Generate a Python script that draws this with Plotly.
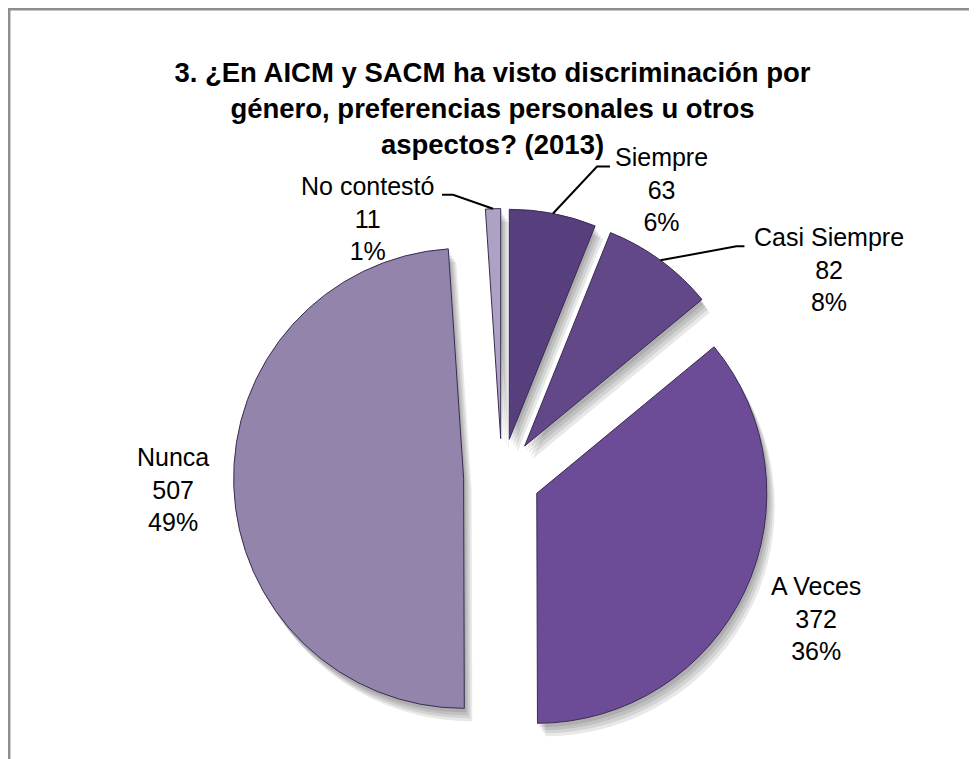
import math
import plotly.graph_objects as go

# ---- data ----
categories = ["Siempre", "Casi Siempre", "A Veces", "Nunca", "No contestó"]
counts = [63, 82, 372, 507, 11]
slice_colors = ["#573e7d", "#634889", "#6d4c97", "#9384ac", "#aca2c4"]
title_lines = ["3. ¿En AICM y SACM ha visto discriminación por",
               "género, preferencias personales u otros",
               "aspectos? (2013)"]

# ---- layout / style ----
OFF = 8                      # page body margin of the html
W, H = 977 - OFF, 759        # figure size
CX, CY, R, PULL = 502, 477, 230, 0.167   # screen pixels
HALF = R * (1 + PULL)
FONT = "Liberation Sans, Arial, sans-serif"

# label placement relative to the slice's outer mid-point (pixels): text centre and leader path
label_style = {
    "Siempre":      dict(text=(108, -24), path=[(44, -47), (57, -47)]),
    "Casi Siempre": dict(text=(169, 9),   path=[(76, -14), (84, -14)]),
    "A Veces":      dict(text=(71, 28),   path=[]),
    "Nunca":        dict(text=(-61, 3),   path=[]),
    "No contestó":  dict(text=(-126, 10), path=[(-40, -14), (-51, -14)]),
}


def px(x, y):
    return (x - OFF) / W, 1 - (y - OFF) / H


def domain(cx, cy):
    x0, y1 = px(cx - HALF, cy - HALF)
    x1, y0 = px(cx + HALF, cy + HALF)
    return dict(x=[max(0, x0), min(1, x1)], y=[max(0, y0), min(1, y1)])


fig = go.Figure()

# soft shadow layers
for ox, oy in [(2, 4), (4, 7), (6, 10), (8, 13)]:
    fig.add_trace(go.Pie(
        labels=categories, values=counts, sort=False, direction="clockwise",
        rotation=0, pull=[PULL] * len(counts), textinfo="none", hoverinfo="skip",
        marker=dict(colors=["rgba(0,0,0,0.09)"] * len(counts), line=dict(width=0)),
        domain=domain(CX + ox, CY + oy), showlegend=False,
    ))

fig.add_trace(go.Pie(
    labels=categories, values=counts, sort=False, direction="clockwise",
    rotation=0, pull=[PULL] * len(counts), textinfo="none",
    marker=dict(colors=slice_colors, line=dict(color="#3b2b52", width=1)),
    domain=domain(CX, CY), showlegend=False,
))

# labels with leader lines
total = sum(counts)
cum = 0
shapes = []
annotations = []
for cat, v in zip(categories, counts):
    mid = (cum + v / 2) / total * 2 * math.pi
    cum += v
    dx, dy = math.sin(mid), -math.cos(mid)
    ex = CX + PULL * R * dx + R * dx
    ey = CY + PULL * R * dy + R * dy
    st = label_style[cat]
    tx, ty = ex + st["text"][0], ey + st["text"][1]
    pct = round(v / total * 100)
    xp, yp = px(tx, ty)
    annotations.append(dict(
        x=xp, y=yp, xref="paper", yref="paper", showarrow=False,
        text=f"{cat}<br>{v}<br>{pct}%", align="center",
        xanchor="center", yanchor="middle",
        font=dict(family=FONT, size=25, color="#000000"),
    ))
    if st["path"]:
        pts = [(ex, ey)] + [(ex + a, ey + b) for a, b in st["path"]]
        d = "M " + " L ".join(f"{px(a, b)[0]:.5f},{px(a, b)[1]:.5f}" for a, b in pts)
        shapes.append(dict(type="path", xref="paper", yref="paper", path=d,
                           line=dict(color="#000000", width=2)))

# chart frame
shapes.append(dict(type="rect", xref="paper", yref="paper",
                   x0=1.2 / W, x1=1.05, y0=-0.05, y1=1 - 1.2 / H,
                   line=dict(color="#8e8e8e", width=2.5), fillcolor="rgba(0,0,0,0)"))

fig.update_layout(
    width=W, height=H,
    margin=dict(l=0, r=0, t=0, b=0),
    paper_bgcolor="#ffffff", plot_bgcolor="#ffffff",
    title=dict(text="<b>" + "<br>".join(title_lines) + "</b>",
               x=0.5, xanchor="center", y=px(0, 82)[1], yanchor="middle", yref="container",
               font=dict(family=FONT, size=27.5, color="#000000")),
    shapes=shapes, annotations=annotations,
)

fig.write_html("out.html")
